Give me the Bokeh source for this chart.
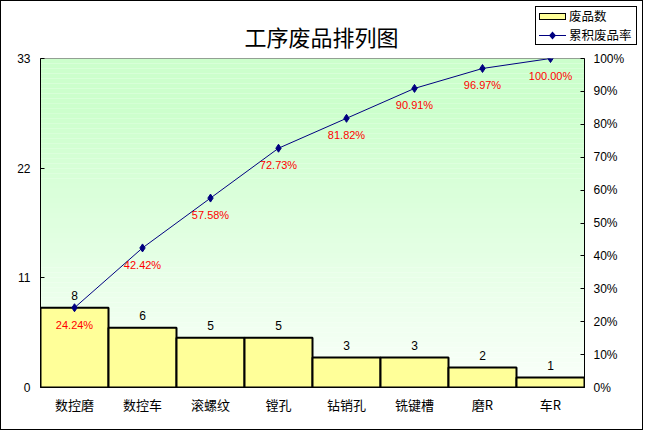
from bokeh.plotting import figure
from bokeh.layouts import column
from bokeh.models import (FactorRange, Range1d, LinearAxis, FixedTicker, NumeralTickFormatter,
                          ColumnDataSource, BoxAnnotation, Div)
from bokeh.core.properties import value
from bokeh.embed import file_html
from bokeh.resources import INLINE

# ---- data ----
categories = ["数控磨", "数控车", "滚螺纹", "镗孔", "钻销孔", "铣键槽", "磨R", "车R"]
counts = [8, 6, 5, 5, 3, 3, 2, 1]
left_ticks = [0, 11, 22, 33]
right_ticks = [0.0, 0.1, 0.2, 0.3, 0.4, 0.5, 0.6, 0.7, 0.8, 0.9, 1.0]
title_text = "工序废品排列图"
bar_name = "废品数"
line_name = "累积废品率"

total = sum(counts)
cum = []
run = 0
for c in counts:
    run += c
    cum.append(run / total)
cum_labels = [f"{v * 100:.2f}%" for v in cum]

src = ColumnDataSource(dict(cat=categories, count=counts, count_s=[str(c) for c in counts],
                            cum=cum, cum_s=cum_labels))

LAT = "Liberation Sans"
CJK = "Noto Sans CJK SC"
BAR_FILL = "#FFFF99"
NAVY = "#000080"

W = 641
HEAD_H = 49

# ---- header strip: title + legend (HTML) ----
head_html = f"""
<div style="position:relative;width:{W}px;height:{HEAD_H}px;font-family:'{CJK}';color:black;">
  <div style="position:absolute;left:0;top:21px;width:{W}px;text-align:center;font-size:22px;line-height:28px;white-space:nowrap;">{title_text}</div>
  <div style="position:absolute;left:534px;top:5px;width:102px;height:39px;border:1px solid black;background:white;box-sizing:border-box;font-size:12.5px;line-height:18px;">
    <div style="position:absolute;left:3px;top:0px;height:18px;display:flex;align-items:center;white-space:nowrap;">
      <span style="display:inline-block;width:27px;height:7px;background:{BAR_FILL};border:1px solid black;box-sizing:border-box;"></span>
      <span style="margin-left:3px;">{bar_name}</span>
    </div>
    <div style="position:absolute;left:3px;top:19px;height:18px;display:flex;align-items:center;white-space:nowrap;">
      <svg width="27" height="9" style="display:block;"><line x1="0" y1="4.5" x2="27" y2="4.5" stroke="{NAVY}" stroke-width="1"/><polygon points="13.5,0.5 17,4.5 13.5,8.5 10,4.5" fill="{NAVY}"/></svg>
      <span style="margin-left:3px;">{line_name}</span>
    </div>
  </div>
</div>
"""
head = Div(text=head_html, width=W, height=HEAD_H, margin=0)

# ---- main chart ----
p = figure(width=W, height=428 - HEAD_H, x_range=FactorRange(*categories, range_padding=0),
           y_range=Range1d(0, 33), output_backend="svg", toolbar_location=None,
           min_border_left=39, min_border_right=58, min_border_top=8, min_border_bottom=42)
p.extra_y_ranges = {"pct": Range1d(0, 1)}
p.title.visible = False

p.xgrid.visible = False
p.ygrid.visible = False
p.outline_line_color = "#808080"
p.background_fill_color = "white"

# gradient background bands
n = 66
for i in range(n):
    t = (i + 0.5) / n  # 0 bottom -> 1 top
    f = min(1.0, t / 0.85)
    r = round(250 - (250 - 204) * f)
    col = "#%02x%02x%02x" % (r, 255, r)
    p.add_layout(BoxAnnotation(bottom=33 * i / n, top=33 * (i + 1) / n, fill_color=col,
                               fill_alpha=1, line_alpha=0, level="underlay"))

# left axis
ya = p.yaxis[0]
ya.ticker = FixedTicker(ticks=left_ticks)
ya.major_tick_in = 4
ya.major_tick_out = 0
ya.minor_tick_line_color = None
ya.axis_line_color = "black"
ya.major_tick_line_color = "black"
ya.major_label_text_font = LAT
ya.major_label_text_font_size = "12px"
ya.major_label_text_color = "black"
ya.major_label_standoff = 10

# right axis
ra = LinearAxis(y_range_name="pct", ticker=FixedTicker(ticks=right_ticks),
                formatter=NumeralTickFormatter(format="0%"))
ra.major_tick_in = 4
ra.major_tick_out = 0
ra.minor_tick_line_color = None
ra.axis_line_color = "black"
ra.major_tick_line_color = "black"
ra.major_label_text_font = LAT
ra.major_label_text_font_size = "12px"
ra.major_label_text_color = "black"
ra.major_label_standoff = 9
p.add_layout(ra, "right")

# bottom axis
xa = p.xaxis[0]
xa.major_tick_in = 0
xa.major_tick_out = 0
xa.axis_line_color = "black"
xa.major_label_text_font = CJK
xa.major_label_text_font_size = "13px"
xa.major_label_text_color = "black"
xa.major_label_standoff = 7

bars = p.vbar(x="cat", top="count", width=1, source=src, fill_color=BAR_FILL,
              line_color="black", line_width=2)
line = p.line(x="cat", y="cum", source=src, y_range_name="pct", line_color=NAVY, line_width=1)
marks = p.scatter(x="cat", y="cum", source=src, y_range_name="pct", marker="diamond", size=8,
                  fill_color=NAVY, line_color=NAVY)

p.text(x="cat", y="count", text="count_s", source=src, text_align="center",
       text_baseline="bottom", y_offset=-8, text_font=value(LAT), text_font_size="12px",
       text_color="black")
p.text(x="cat", y="cum", text="cum_s", source=src, y_range_name="pct", text_align="center",
       text_baseline="middle", y_offset=17, text_font=value(LAT), text_font_size="11px",
       text_color="#FF0000")

layout = column(head, p, spacing=0)
layout.styles = {"border": "1px solid black"}

open("out.html", "w").write(file_html(layout, INLINE))
